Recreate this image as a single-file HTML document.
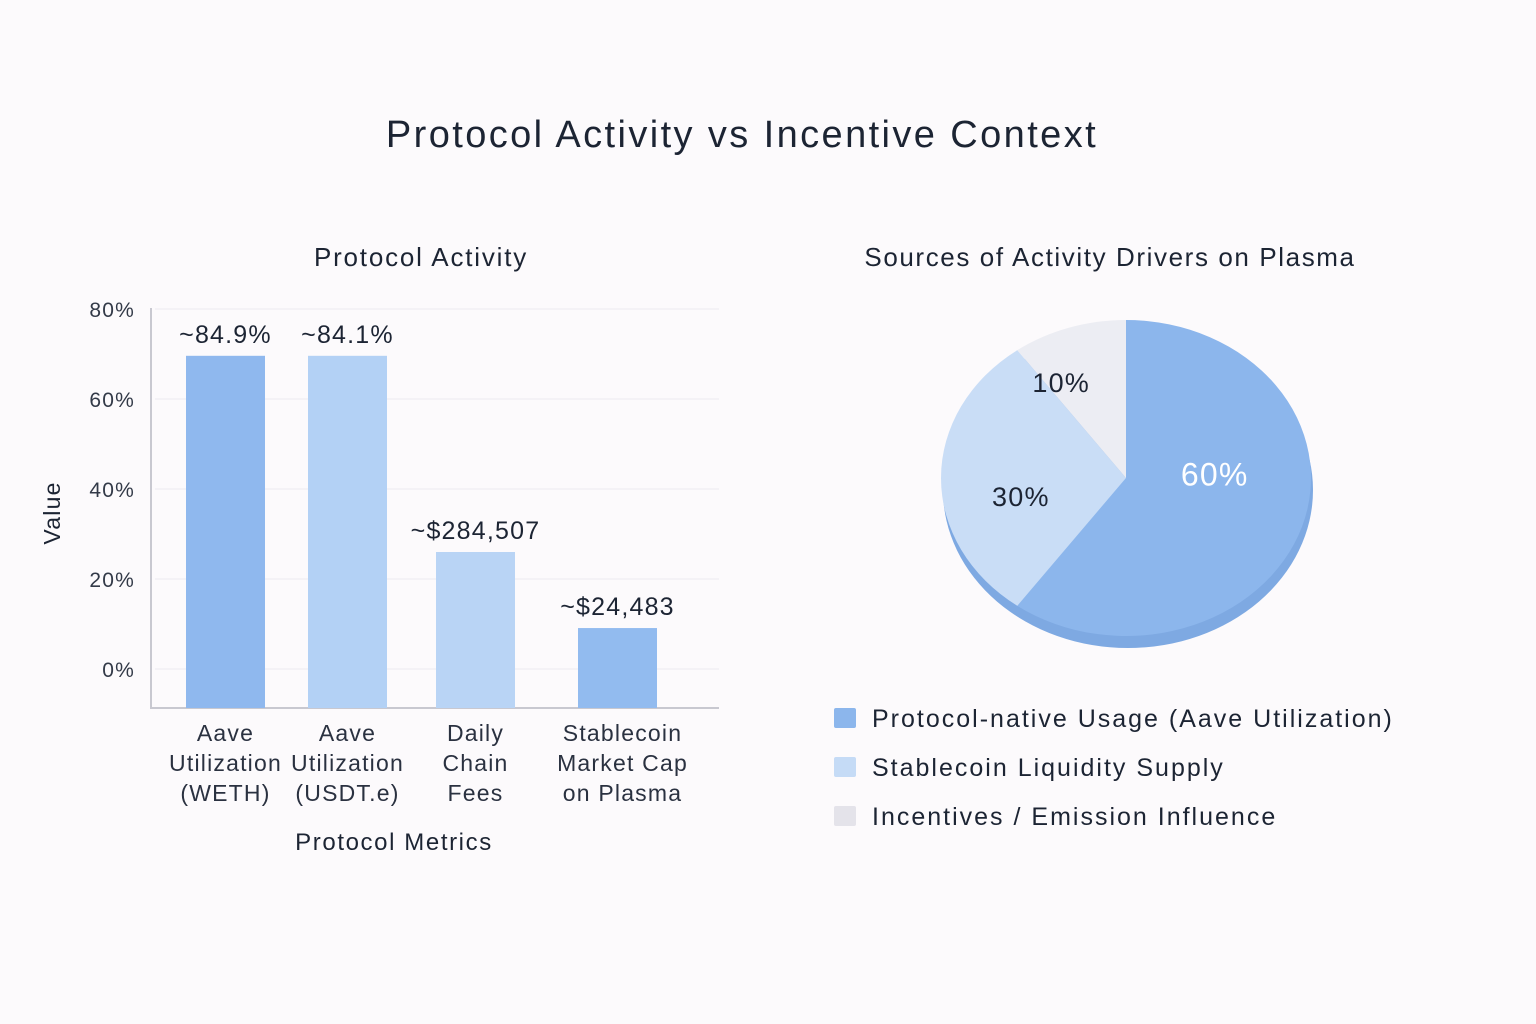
<!DOCTYPE html>
<html><head><meta charset="utf-8"><style>
body{margin:0;width:1536px;height:1024px;background:#fcfafc;font-family:"Liberation Sans",sans-serif;color:#1c2230;overflow:hidden}
svg{position:absolute;left:0;top:0}
text{letter-spacing:1.2px}
</style></head><body>
<svg width="1536" height="1024" id="svg">
<text x="742" y="147" text-anchor="middle" font-size="38" style="letter-spacing:2.4px" fill="#1c2433">Protocol Activity vs Incentive Context</text>
<text x="421" y="266" text-anchor="middle" font-size="26" style="letter-spacing:1.8px" fill="#1c2433">Protocol Activity</text>
<text x="1110" y="266" text-anchor="middle" font-size="26" style="letter-spacing:1.6px" fill="#1c2433">Sources of Activity Drivers on Plasma</text>
<text x="60" y="513" text-anchor="middle" font-size="23" transform="rotate(-90 60 513)" fill="#1c2433">Value</text>
<text x="394" y="850" text-anchor="middle" font-size="24" style="letter-spacing:1.6px" fill="#1c2433">Protocol Metrics</text>
<g id="bars"></g><g id="pie"></g><g id="legend"></g>
</svg>
<script>
const ticks=[0,20,40,60,80];
const tickLabels=["0%","20%","40%","60%","80%"];
const categories=[["Aave","Utilization","(WETH)"],["Aave","Utilization","(USDT.e)"],["Daily","Chain","Fees"],["Stablecoin","Market Cap","on Plasma"]];
const barValues=[69.6,69.6,26,9.1];
const barLabels=["~84.9%","~84.1%","~$284,507","~$24,483"];
const barColors=["#8fb8ee","#b3d1f5","#b9d4f5","#92bbef"];
const pieLabels=["60%","30%","10%"];
const pieValues=[60,30,10];
const pieColors=["#8cb6ec","#c9ddf6","#ecedf3"];
const legendLabels=["Protocol-native Usage (Aave Utilization)","Stablecoin Liquidity Supply","Incentives / Emission Influence"];
const legendColors=["#8cb6ec","#c5dbf6","#e4e3ea"];
const NS="http://www.w3.org/2000/svg";
function mk(t,a,p){const e=document.createElementNS(NS,t);for(const k in a)e.setAttribute(k,a[k]);p.appendChild(e);return e;}
const y=v=>669-v*4.5;
const bx=i=>[186,308,436,578][i]??186+i*130;
const g=document.getElementById('bars');
ticks.forEach((t,i)=>{
 const l=mk('line',{x1:155,x2:719,y1:y(t),y2:y(t),stroke:'#ebebf0','stroke-width':1},g);
 
 
 const tx=mk('text',{x:135,y:y(t)+8,'text-anchor':'end','font-size':21,fill:'#333a48'},g);tx.textContent=tickLabels[i];
 
 
});
const ax=mk('path',{d:'M151 308 V708 H719',fill:'none',stroke:'#c8c8d0','stroke-width':2},g);


barValues.forEach((v,i)=>{
 const x=bx(i),w=79;
 const r=mk('rect',{x:x,y:y(v),width:w,height:708-y(v),fill:barColors[i]},g);
 
 
 const t=mk('text',{x:x+w/2,y:y(v)-13,'text-anchor':'middle','font-size':25,fill:'#1c2433'},g);t.textContent=barLabels[i];
 
 
 categories[i].forEach((s,j)=>{const c=mk('text',{x:x+w/2+(i==3?5:0),y:741+j*30,'text-anchor':'middle','font-size':23,fill:'#2a3140'},g);c.textContent=s;
 
 });
});
const p=document.getElementById('pie');
const cx=1126,cy=478,rx=185,ry=158;
const dep=mk('ellipse',{cx:cx+2,cy:cy+12,rx:rx,ry:ry,fill:'#7ea9e2'},p);


const tot=pieValues.reduce((a,b)=>a+b,0);let a0=-Math.PI/2;
const lpos=[[0.48,-0.35],[0.58,-0.2],[0.7,-0.21]];
pieValues.forEach((v,i)=>{
 const a1=a0+v/tot*2*Math.PI;
 const P=a=>[cx+rx*Math.cos(a),cy+ry*Math.sin(a)];
 const s=P(a0),e=P(a1);
 const sl=mk('path',{d:`M${cx} ${cy} L${s[0]} ${s[1]} A${rx} ${ry} 0 ${a1-a0>Math.PI?1:0} 1 ${e[0]} ${e[1]} Z`,fill:pieColors[i]},p);
 
 
 const m=(a0+a1)/2+lpos[i][1],lr=lpos[i][0];
 const t=mk('text',{x:cx+rx*lr*Math.cos(m),y:cy+ry*lr*Math.sin(m)+10,'text-anchor':'middle','font-size':i==0?32:27,fill:i==0?'#ffffff':'#1c2433'},p);t.textContent=pieLabels[i];
 
 
 a0=a1;
});
const lg=document.getElementById('legend');
legendLabels.forEach((s,i)=>{
 const yy=718+i*49;
 const r=mk('rect',{x:834,y:yy-10,width:22,height:20,rx:2,fill:legendColors[i]},lg);
 
 
 const t=mk('text',{x:872,y:yy+9,'font-size':25,fill:'#1c2433',style:'letter-spacing:2px'},lg);t.textContent=s;
 
 
});
</script>
</body></html>
